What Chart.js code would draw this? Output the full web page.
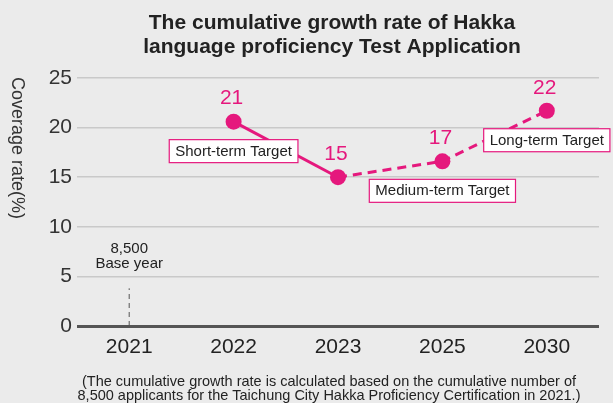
<!DOCTYPE html>
<html>
<head>
<meta charset="utf-8">
<title>Hakka proficiency test growth</title>
<script src="https://cdn.jsdelivr.net/npm/chart.js@4.4.1/dist/chart.umd.min.js"></script>
<style>
  html, body { margin: 0; padding: 0; background: #ebebeb; }
  #wrap { width: 613px; height: 403px; position: relative; }
</style>
</head>
<body>
<div id="wrap"><canvas id="growthChart"></canvas></div>
<script>
// --- chart data ---
const years = ['2021', '2022', '2023', '2025', '2030'];
const growthRate = [null, 20.6, 15.0, 16.6, 21.7];
const yTickValues = [0, 5, 10, 15, 20, 25];
const baseYearMarker = [0, 3.8];
const baseYearText = ['8,500', 'Base year'];
const targetYears = ['2022', '2025', '2030'];
const targetNames = ['Short-term Target', 'Medium-term Target', 'Long-term Target'];
const titleLines = ['The cumulative growth rate of Hakka', 'language proficiency Test Application'];
const noteLines = [
  '(The cumulative growth rate is calculated based on the cumulative number of',
  '8,500 applicants for the Taichung City Hakka Proficiency Certification in 2021.)'
];
const yAxisTitle = 'Coverage rate(%)';

const PINK = '#e5187d';
const FONT = '"Liberation Sans", Arial, Helvetica, sans-serif';

// background, titles, value labels, target boxes
const decorPlugin = {
  id: 'decor',
  beforeDraw(chart) {
    const { ctx } = chart;
    ctx.save();
    ctx.fillStyle = '#ebebeb';
    ctx.fillRect(0, 0, chart.width, chart.height);
    ctx.restore();
  },
  afterDraw(chart) {
    const { ctx, scales } = chart;
    const cx = 332;
    ctx.save();
    ctx.textAlign = 'center';

    // title
    ctx.textBaseline = 'alphabetic';
    ctx.fillStyle = '#222';
    ctx.font = 'bold 21px ' + FONT;
    titleLines.forEach((t, i) => ctx.fillText(t, cx, 29 + i * 24));

    // footnote
    ctx.font = '14.5px ' + FONT;
    noteLines.forEach((t, i) => ctx.fillText(t, cx - 3, 386 + i * 13.5));

    ctx.textBaseline = 'middle';

    // y axis title, reading top to bottom
    ctx.save();
    ctx.translate(17, 148);
    ctx.rotate(Math.PI / 2);
    ctx.fillStyle = '#333';
    ctx.font = '18px ' + FONT;
    ctx.fillText(yAxisTitle, 0, 0);
    ctx.restore();

    // base year note above the dashed marker
    const bx = scales.x.getPixelForValue(years.indexOf('2021'));
    const by = scales.y.getPixelForValue(baseYearMarker[1]);
    ctx.fillStyle = '#222';
    ctx.font = '15px ' + FONT;
    ctx.fillText(baseYearText[0], bx, by - 39);
    ctx.fillText(baseYearText[1], bx, by - 24);

    // value labels over each point
    const meta = chart.getDatasetMeta(0);
    ctx.fillStyle = PINK;
    ctx.font = '21px ' + FONT;
    meta.data.forEach((pt, i) => {
      const v = growthRate[i];
      if (v === null || pt.skip) return;
      ctx.fillText(String(Math.round(v)), pt.x - 2, pt.y - 23);
    });

    // target boxes under the points
    ctx.font = '15px ' + FONT;
    targetYears.forEach((yr, i) => {
      const pt = meta.data[years.indexOf(yr)];
      const w = ctx.measureText(targetNames[i]).width + 12;
      const h = 23;
      const x0 = pt.x - w / 2;
      const y0 = pt.y + 29.5 - h / 2;
      ctx.fillStyle = '#fff';
      ctx.fillRect(x0, y0, w, h);
      ctx.strokeStyle = PINK;
      ctx.lineWidth = 1.2;
      ctx.strokeRect(x0, y0, w, h);
      ctx.fillStyle = '#222';
      ctx.fillText(targetNames[i], pt.x, pt.y + 30);
    });
    ctx.restore();
  }
};

new Chart(document.getElementById('growthChart'), {
  type: 'line',
  data: {
    labels: years,
    datasets: [
      {
        label: 'growth',
        data: growthRate,
        borderColor: PINK,
        backgroundColor: PINK,
        borderWidth: 3,
        pointRadius: 8,
        pointHoverRadius: 8,
        pointBorderWidth: 0,
        segment: {
          borderDash: c => c.p0DataIndex >= 2 ? [9, 6] : undefined
        }
      },
      {
        label: 'base',
        data: baseYearMarker.map(v => ({ x: '2021', y: v })),
        borderColor: '#555',
        borderWidth: 1,
        borderDash: [5, 4],
        pointRadius: 0
      }
    ]
  },
  options: {
    responsive: true,
    maintainAspectRatio: false,
    animation: false,
    layout: { padding: { top: 78, right: 14, left: 0, bottom: 0 } },
    plugins: {
      legend: { display: false },
      tooltip: { enabled: false },
      title: { display: false }
    },
    scales: {
      x: {
        offset: true,
        grid: { display: false, drawTicks: false },
        border: { display: false },
        ticks: {
          color: '#222',
          padding: 9,
          font: { family: FONT, size: 21 }
        },
        afterFit: s => { s.height = 77; }
      },
      y: {
        min: 0,
        max: 25,
        afterBuildTicks: s => { s.ticks = yTickValues.map(v => ({ value: v })); },
        grid: {
          drawTicks: false,
          color: c => c.tick.value === 0 ? '#555' : '#c9c9c9',
          lineWidth: c => c.tick.value === 0 ? 3 : 1.5
        },
        border: { display: false },
        ticks: {
          color: '#333',
          padding: 5,
          font: { family: FONT, size: 21 }
        },
        afterFit: s => { s.width = 77; }
      }
    }
  },
  plugins: [decorPlugin]
});
</script>
</body>
</html>
